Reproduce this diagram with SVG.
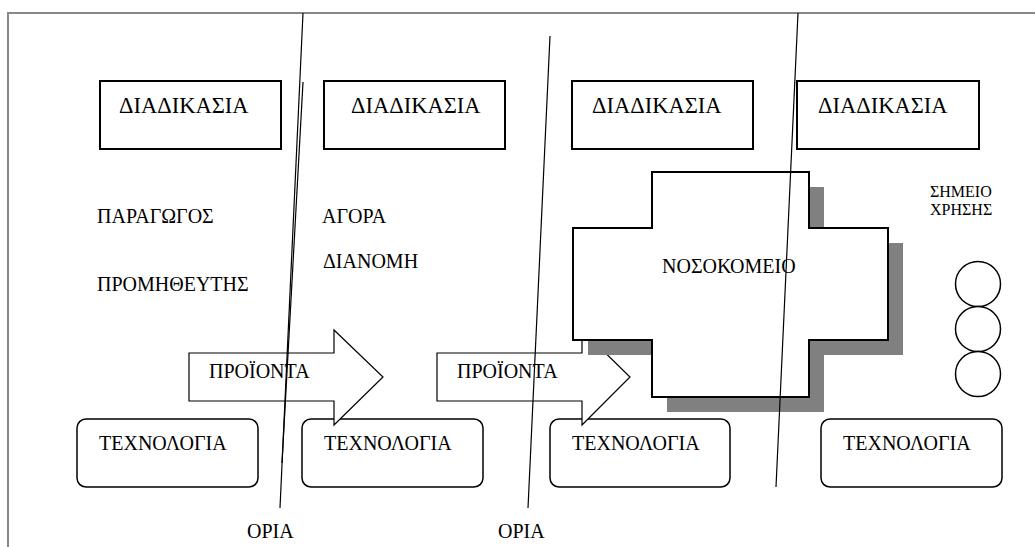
<svg xmlns="http://www.w3.org/2000/svg" width="1035" height="547" viewBox="0 0 1035 547">
<style>
text{font-family:"Liberation Serif",serif;fill:#000;}
.t{font-size:20px;}
.h{font-size:22.5px;}
.s{font-size:16px;}
.box{fill:#fff;stroke:#000;stroke-width:2;}
.rbox{fill:#fff;stroke:#000;stroke-width:1.5;}
.arr{fill:#fff;stroke:#000;stroke-width:1.2;}
.bd{fill:none;stroke:#000;stroke-width:1.2;}
.circ{fill:#fff;stroke:#000;stroke-width:1.5;}
</style>
<rect width="1035" height="547" fill="#fff"/>
<path d="M8,547 V13 H1035" fill="none" stroke="#888" stroke-width="2"/>

<g id="proc1"><rect class="box" x="100" y="81" width="181" height="68"/><text class="h" x="119" y="113">ΔΙΑΔΙΚΑΣΙΑ</text></g>
<g id="proc2"><rect class="box" x="324" y="81" width="181" height="68"/><text class="h" x="351" y="113">ΔΙΑΔΙΚΑΣΙΑ</text></g>
<g id="proc3"><rect class="box" x="572" y="81" width="181" height="68"/><text class="h" x="592" y="113">ΔΙΑΔΙΚΑΣΙΑ</text></g>
<g id="proc4"><rect class="box" x="797" y="81" width="182" height="68"/><text class="h" x="818" y="113">ΔΙΑΔΙΚΑΣΙΑ</text></g>

<g id="labels">
<text class="t" x="97" y="223">ΠΑΡΑΓΩΓΟΣ</text>
<text class="t" x="97" y="291">ΠΡΟΜΗΘΕΥΤΗΣ</text>
<text class="t" x="322" y="223">ΑΓΟΡΑ</text>
<text class="t" x="323" y="268">ΔΙΑΝΟΜΗ</text>
</g>

<g id="use"><text class="s" x="930" y="197">ΣΗΜΕΙΟ</text><text class="s" x="930" y="215">ΧΡΗΣΗΣ</text></g>

<g id="tech1"><rect class="rbox" x="77" y="419" width="181" height="68" rx="9"/><text class="t" x="99" y="450">ΤΕΧΝΟΛΟΓΙΑ</text></g>
<g id="tech2"><rect class="rbox" x="302" y="419" width="181" height="68" rx="9"/><text class="t" x="324" y="450">ΤΕΧΝΟΛΟΓΙΑ</text></g>
<g id="tech3"><rect class="rbox" x="550" y="419" width="180" height="68" rx="9"/><text class="t" x="572" y="450">ΤΕΧΝΟΛΟΓΙΑ</text></g>
<g id="tech4"><rect class="rbox" x="821" y="419" width="181" height="68" rx="9"/><text class="t" x="843" y="450">ΤΕΧΝΟΛΟΓΙΑ</text></g>

<g id="products1"><path class="arr" d="M189,353 H334 V330 L383,377 L334,425 V401 H189 Z"/><text class="t" x="209" y="378">ΠΡΟΪΟΝΤΑ</text></g>
<g id="products2"><path class="arr" d="M437,353 H582 V330 L630,377 L582,425 V401 H437 Z"/><text class="t" x="457" y="378">ΠΡΟΪΟΝΤΑ</text></g>

<g id="hospital">
<path d="M667,187 H824 V243 H903 V355 H824 V412 H667 V355 H588 V243 H667 Z" fill="#808080"/>
<path d="M652,172 H809 V228 H888 V340 H809 V397 H652 V340 H573 V228 H652 Z" fill="#fff" stroke="#000" stroke-width="2"/>
<text class="t" x="662" y="273">ΝΟΣΟΚΟΜΕΙΟ</text>
</g>

<g id="points">
<circle class="circ" cx="978" cy="284" r="22.5"/>
<circle class="circ" cx="978" cy="329" r="22.5"/>
<circle class="circ" cx="978" cy="374" r="22.5"/>
</g>

<g id="connectors">
<line class="bd" x1="303" y1="13" x2="280" y2="508"/>
<line class="bd" x1="303" y1="82" x2="282" y2="463"/>
<line class="bd" x1="550" y1="36" x2="528" y2="508"/>
<line class="bd" x1="798" y1="13" x2="776" y2="487"/>
</g>

<g id="boundaries"><text class="t" x="247" y="538">ΟΡΙΑ</text><text class="t" x="498" y="538">ΟΡΙΑ</text></g>
</svg>
